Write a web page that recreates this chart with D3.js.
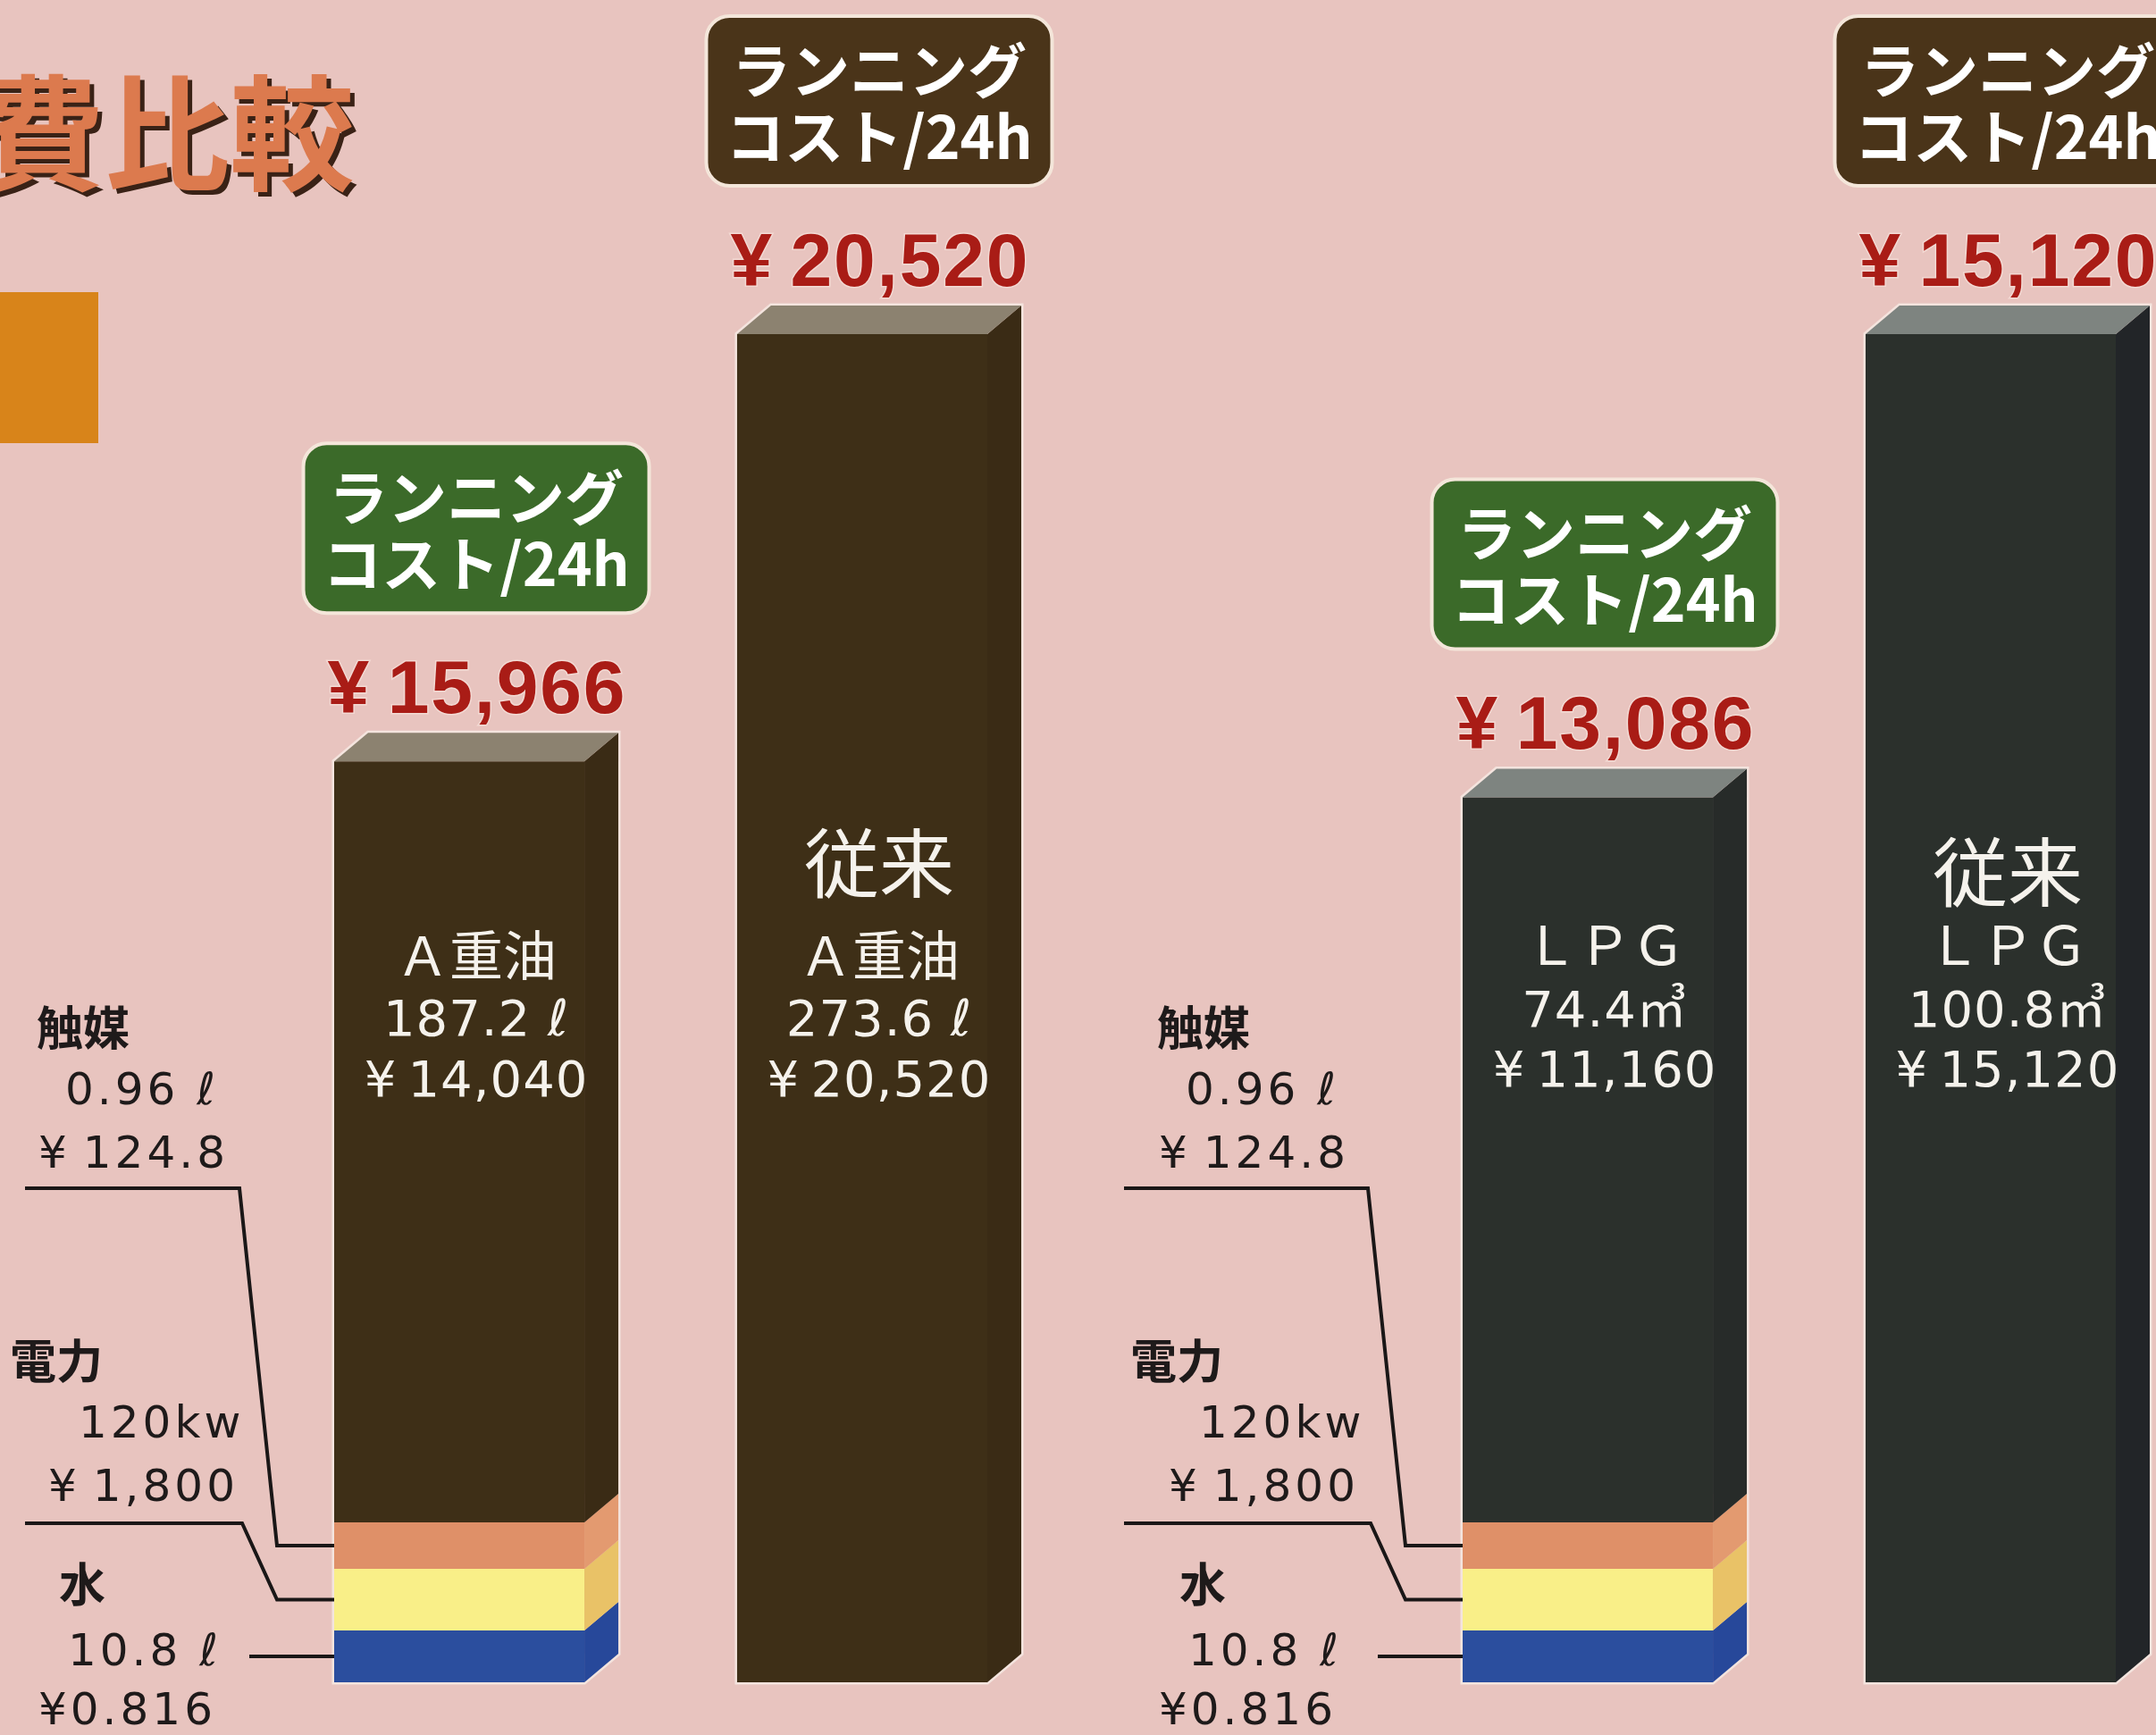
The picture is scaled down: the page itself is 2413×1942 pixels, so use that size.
<!DOCTYPE html>
<html>
<head>
<meta charset="utf-8">
<script src="https://cdn.jsdelivr.net/npm/d3@7"></script>
<style>
html, body { margin: 0; padding: 0; background: #e8c4bf; overflow: hidden; }
svg { display: block; }
</style>
</head>
<body>
<div id="chart"></div>
<script>
// values
var panels = ["A重油", "LPG"];
var kinds = ["new", "conv"];            // new system / 従来

var barPanel    = ["A重油", "A重油", "LPG", "LPG"];
var barKind     = ["new", "conv", "new", "conv"];
var fuelLabel   = ["Ａ重油", "Ａ重油", "ＬＰＧ", "ＬＰＧ"];
var fuelAmount  = ["187.2 ℓ", "273.6 ℓ", "74.4㎥", "100.8㎥"];
var fuelCost    = [14040, 20520, 11160, 15120];
var runningCost = [15966, 20520, 13086, 15120];

// extra costs of the new system, bottom to top of the stack
var extraNames   = ["水", "電力", "触媒"];
var extraAmounts = ["10.8 ℓ", "120kw", "0.96 ℓ"];
var extraCosts   = [0.816, 1800, 124.8];

var boxLines = ["ランニング", "コスト/24h"];
var convLabel = "従来";
var titleText = "費比較";

var width = 2413, height = 1942;
var baseY = 1883, topY = 374;
var dx = 38, dy = 32;

// the brochure bars are not to scale: baseline sits on an offset floor
var scaleFloor = {"A重油": 6150, "LPG": 9200};
var yScale = {};
panels.forEach(function(p) {
  var maxV = d3.max(runningCost.filter(function(v, i) { return barPanel[i] == p; }));
  yScale[p] = d3.scaleLinear().domain([scaleFloor[p], maxV]).range([baseY, topY]);
});

var xPanel = d3.scaleOrdinal().domain(panels).range([374, 1637]);
var xKind = d3.scaleBand().domain(kinds).range([0, 731]).paddingInner(0.379);
var bw = xKind.bandwidth();

// exaggerated layer thickness for the small costs
var layerH = d3.scaleOrdinal().domain(extraNames).range([58, 69, 52]);

var colors = {
  front: {"A重油": "#3e2f17", "LPG": "#2b302c"},
  side:  {"A重油": "#3a2b15", "LPG": "#272b29"},
  top:   {"A重油": "#8c8270", "LPG": "#7e8480"},
  box:   {"new": "#3b6a29", "conv": "#4a3419"},
  extraFront: ["#2b4e9e", "#f9ef88", "#df9068"],
  extraSide:  ["#27489a", "#e9c267", "#e39a70"]
};

var inBarRows = {"A重油": [998, 1092, 1159, 1227], "LPG": [1008, 1080, 1149, 1216]};
var labelX = {"A重油": 4, "LPG": 1258};
var lineX = {"A重油": 28, "LPG": 1258};
var labelRows = {
  heading: [1793, 1543, 1170],
  amount:  [1864, 1609, 1236],
  cost:    [1930, 1680, 1307],
  rule:    [null, 1705, 1330],
  hx: [62, 7, 37], ax: [72, 84, 69], cx: [39, 50, 39]
};

var fmt = d3.format(",");
function yen(v) { return "¥\u2009" + fmt(v); }

var svg = d3.select("#chart").append("svg")
  .attr("width", width)
  .attr("height", height);

svg.append("rect").attr("width", width).attr("height", height).attr("fill", "#e8c4bf");

// title (cut off at the left edge like the scan)
svg.append("text")
  .attr("x", -18).attr("y", 207)
  .attr("font-family", "Noto Sans CJK JP").attr("font-weight", 700).attr("font-size", 140)
  .attr("fill", "#3a2216")
  .text(titleText);
svg.append("text")
  .attr("x", -23).attr("y", 202)
  .attr("font-family", "Noto Sans CJK JP").attr("font-weight", 700).attr("font-size", 140)
  .attr("fill", "#dc7a4e")
  .text(titleText);

svg.append("rect").attr("x", 0).attr("y", 327).attr("width", 110).attr("height", 169).attr("fill", "#d8841a");

var bars = barPanel.map(function(p, i) {
  return {panel: p, kind: barKind[i], name: fuelLabel[i], amount: fuelAmount[i], fuel: fuelCost[i], total: runningCost[i]};
});

function sidePath(x0, yTop, yBot) {
  return "M" + (x0 + bw) + "," + yBot + "L" + (x0 + bw + dx) + "," + (yBot - dy) +
    "L" + (x0 + bw + dx) + "," + (yTop - dy) + "L" + (x0 + bw) + "," + yTop + "Z";
}
function topPath(x0, yTop) {
  return "M" + x0 + "," + yTop + "L" + (x0 + dx) + "," + (yTop - dy) +
    "L" + (x0 + bw + dx) + "," + (yTop - dy) + "L" + (x0 + bw) + "," + yTop + "Z";
}

bars.forEach(function(d) {
  var g = svg.append("g");
  var x0 = xPanel(d.panel) + xKind(d.kind);
  var cx = x0 + (bw + dx) / 2;
  var y = yScale[d.panel];
  var yTop = y(d.total);
  var yCursor = baseY;
  var mids = [];

  // halo like the print
  g.append("path")
    .attr("d", "M" + x0 + "," + baseY + "L" + x0 + "," + yTop + "L" + (x0 + dx) + "," + (yTop - dy) +
      "L" + (x0 + bw + dx) + "," + (yTop - dy) + "L" + (x0 + bw + dx) + "," + (baseY - dy) +
      "L" + (x0 + bw) + "," + baseY + "Z")
    .attr("fill", "none").attr("stroke", "#f4e4de").attr("stroke-width", 5);

  if (d.kind == "new") {
    extraNames.forEach(function(n, i) {
      var h = layerH(n);
      var yb = yCursor, yt = yCursor - h;
      g.append("rect").attr("x", x0).attr("y", yt).attr("width", bw).attr("height", h)
        .attr("fill", colors.extraFront[i]);
      g.append("path").attr("d", sidePath(x0, yt, yb)).attr("fill", colors.extraSide[i]);
      mids.push((yt + yb) / 2);
      yCursor = yt;
    });
  }

  var sideCol = (d.panel == "LPG" && d.kind == "conv") ? "#222528" : colors.side[d.panel];
  g.append("rect").attr("x", x0).attr("y", yTop).attr("width", bw).attr("height", yCursor - yTop)
    .attr("fill", colors.front[d.panel]);
  g.append("path").attr("d", sidePath(x0, yTop, yCursor)).attr("fill", sideCol);
  g.append("path").attr("d", topPath(x0, yTop)).attr("fill", colors.top[d.panel]);

  // text inside the bar
  var rows = inBarRows[d.panel];
  var inText = [];
  if (d.kind == "conv") inText.push({t: convLabel, y: rows[0], cjk: true, size: 84});
  inText.push({t: d.name, y: rows[1], cjk: true, size: 60});
  inText.push({t: d.amount, y: rows[2], cjk: false, size: 56});
  inText.push({t: yen(d.fuel), y: rows[3], cjk: false, size: 56});
  inText.forEach(function(r) {
    g.append("text")
      .attr("x", cx).attr("y", r.y)
      .attr("text-anchor", "middle")
      .attr("font-family", r.cjk ? "Noto Sans CJK JP" : "DejaVu Sans, Noto Sans CJK JP")
      .attr("font-size", r.size)
      .attr("letter-spacing", r.cjk ? 0 : 1)
      .attr("fill", "#f5f2ec")
      .text(r.t);
  });

  // total above the bar
  var labelY = yTop - 54;
  g.append("text")
    .attr("x", cx).attr("y", labelY)
    .attr("text-anchor", "middle")
    .attr("font-family", "Liberation Sans, Arial, sans-serif")
    .attr("font-weight", 700).attr("font-size", 84)
    .attr("textLength", 333).attr("lengthAdjust", "spacing")
    .attr("fill", "#a91c16")
    .attr("stroke", "#f3d9d3").attr("stroke-width", 3).attr("paint-order", "stroke")
    .text(yen(d.total));

  // running cost box
  var boxW = 387, boxH = 190;
  var boxTop = labelY - 112 - boxH;
  g.append("rect")
    .attr("x", cx - boxW / 2).attr("y", boxTop)
    .attr("width", boxW).attr("height", boxH)
    .attr("rx", 26)
    .attr("fill", colors.box[d.kind])
    .attr("stroke", "#f4e6da").attr("stroke-width", 4);
  boxLines.forEach(function(t, i) {
    g.append("text")
      .attr("x", cx).attr("y", boxTop + 86 + i * 74)
      .attr("text-anchor", "middle")
      .attr("font-family", "Noto Sans CJK JP").attr("font-weight", 700).attr("font-size", 66)
      .attr("fill", "#ffffff")
      .text(t);
  });

  // leader labels for the small costs
  if (d.kind == "new") {
    var lx = labelX[d.panel];
    extraNames.forEach(function(n, i) {
      g.append("text")
        .attr("x", lx + labelRows.hx[i]).attr("y", labelRows.heading[i])
        .attr("font-family", "Noto Sans CJK JP").attr("font-weight", 700).attr("font-size", 52)
        .attr("fill", "#1e1a1a")
        .text(n);
      g.append("text")
        .attr("x", lx + labelRows.ax[i]).attr("y", labelRows.amount[i])
        .attr("font-family", "DejaVu Sans, Noto Sans CJK JP").attr("font-size", 50)
        .attr("letter-spacing", 4)
        .attr("fill", "#1e1a1a")
        .text(extraAmounts[i]);
      g.append("text")
        .attr("x", lx + labelRows.cx[i]).attr("y", labelRows.cost[i])
        .attr("font-family", "DejaVu Sans, Noto Sans CJK JP").attr("font-size", 50)
        .attr("letter-spacing", 4)
        .attr("fill", "#1e1a1a")
        .text(i == 0 ? "¥" + fmt(extraCosts[i]) : yen(extraCosts[i]));

      var pts;
      if (labelRows.rule[i] == null) {
        pts = [[x0 - 95, mids[i]], [x0, mids[i]]];
      } else {
        var k1 = (n == "触媒") ? x0 - 106 : x0 - 103;
        pts = [[lineX[d.panel], labelRows.rule[i]], [k1, labelRows.rule[i]], [x0 - 64, mids[i]], [x0, mids[i]]];
      }
      g.append("path")
        .attr("d", d3.line()(pts))
        .attr("fill", "none")
        .attr("stroke", "#1a1717").attr("stroke-width", 4)
        .attr("stroke-linejoin", "miter");
    });
  }
});
</script>
</body>
</html>
